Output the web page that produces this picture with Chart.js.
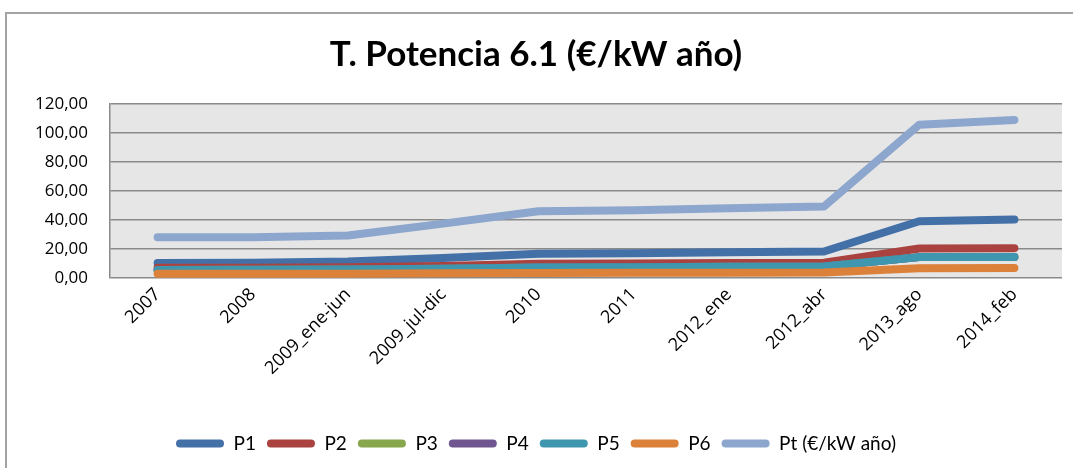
<!DOCTYPE html>
<html>
<head>
<meta charset="utf-8">
<script src="https://cdn.jsdelivr.net/npm/chart.js@4/dist/chart.umd.min.js"></script>
<style>
    html, body { margin: 0; padding: 0; background: #fff; }
    #wrap { position: relative; width: 1073px; height: 468px; }
    #frame { position: absolute; left: 5px; top: 12px; width: 1100px; height: 500px;
             border-left: 2px solid #a3a3a3; border-top: 2px solid #a3a3a3; }
    canvas { position: absolute; left: 0; top: 0; }
</style>
</head>
<body>
<div id="wrap">
    <div id="frame"></div>
    <canvas id="chart" width="1073" height="468"></canvas>
</div>
<script>
// Categories (periods)
const periods = ['2007', '2008', '2009_ene-jun', '2009_jul-dic', '2010', '2011',
                 '2012_ene', '2012_abr', '2013_ago', '2014_feb'];

// Series values
const p1 = [10.4, 10.5, 11.3, 13.8, 16.8, 17.1, 17.8, 18.3, 39.1, 40.3];
const p2 = [7.0, 7.1, 7.4, 8.3, 9.8, 10.0, 10.4, 10.6, 20.3, 20.6];
const p3 = [5.6, 5.7, 5.9, 6.4, 7.3, 7.5, 7.8, 8.0, 14.4, 14.5];
const p4 = [5.6, 5.7, 5.9, 6.4, 7.3, 7.5, 7.8, 8.0, 14.4, 14.5];
const p5 = [5.6, 5.7, 5.9, 6.4, 7.3, 7.5, 7.8, 8.0, 14.4, 14.5];
const p6 = [2.9, 2.9, 3.0, 3.2, 3.5, 3.6, 3.7, 3.8, 6.8, 6.9];
const pt = [28.1, 28.1, 29.3, 37.5, 46.0, 46.8, 48.1, 49.3, 105.7, 109.0];

// Y axis ticks
const yTicks = [0, 20, 40, 60, 80, 100, 120];

const seriesNames = ['P1', 'P2', 'P3', 'P4', 'P5', 'P6', 'Pt (€/kW año)'];
const seriesData = [p1, p2, p3, p4, p5, p6, pt];
const seriesColors = ['#4470a8', '#aa4340', '#88a64c', '#6f5690', '#3e97ae', '#dc8139', '#8da6cd'];

// Gray background behind the plot area
const plotBackground = {
    id: 'plotBackground',
    beforeDraw(chart) {
        const a = chart.chartArea;
        const ctx = chart.ctx;
        ctx.save();
        ctx.fillStyle = '#e6e6e6';
        ctx.fillRect(a.left, a.top, a.right - a.left, a.bottom - a.top);
        ctx.restore();
    }
};

const ctx = document.getElementById('chart').getContext('2d');
new Chart(ctx, {
    type: 'line',
    data: {
        labels: periods,
        datasets: seriesNames.map(function(name, i) {
            return {
                label: name,
                data: seriesData[i],
                borderColor: seriesColors[i],
                backgroundColor: seriesColors[i],
                borderWidth: 8,
                borderCapStyle: 'round',
                borderJoinStyle: 'round',
                pointRadius: 0,
                pointHoverRadius: 0,
                tension: 0,
                order: seriesNames.length - i
            };
        })
    },
    options: {
        responsive: false,
        animation: false,
        layout: { padding: { left: 10, right: 11, top: 0, bottom: 5 } },
        plugins: {
            title: {
                display: true,
                text: 'T. Potencia 6.1 (€/kW año)',
                color: '#000',
                font: { family: 'Lato', size: 35, weight: 'bold', lineHeight: 1.2 },
                padding: { top: 34, bottom: 28 }
            },
            legend: {
                position: 'bottom',
                labels: {
                    color: '#000',
                    font: { family: 'Lato', size: 19 },
                    boxWidth: 48,
                    boxHeight: 8,
                    padding: 11,
                    generateLabels(chart) {
                        return chart.data.datasets.map(function(ds, i) {
                            return {
                                text: ds.label,
                                fillStyle: ds.borderColor,
                                strokeStyle: ds.borderColor,
                                lineWidth: 0,
                                datasetIndex: i,
                                borderRadius: 4
                            };
                        });
                    }
                }
            },
            tooltip: { enabled: false }
        },
        scales: {
            x: {
                offset: true,
                grid: { display: false, drawTicks: false },
                border: { display: false },
                ticks: {
                    color: '#000',
                    font: { family: 'Open Sans', size: 18 },
                    maxRotation: 45,
                    minRotation: 45,
                    padding: 6
                },
                afterFit(scale) { scale.height = 145; }
            },
            y: {
                min: 0,
                max: 120,
                afterBuildTicks(scale) {
                    scale.ticks = yTicks.map(function(v) { return { value: v }; });
                },
                grid: { color: '#8a8a8a', lineWidth: 1.5, drawTicks: false },
                border: { display: true, color: '#8a8a8a', width: 1.5 },
                ticks: {
                    color: '#000',
                    font: { family: 'Open Sans', size: 17 },
                    padding: 22,
                    callback: function(v) { return v.toFixed(2).replace('.', ','); }
                },
                afterFit(scale) { scale.width = 100; }
            }
        }
    },
    plugins: [plotBackground]
});
</script>
</body>
</html>
